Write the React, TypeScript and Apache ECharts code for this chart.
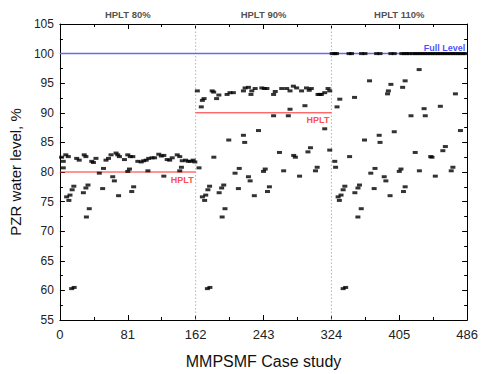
import React, { useEffect, useRef } from "react";
import * as echarts from "echarts";

// ---- axis / annotation values ----
const xMin = 0;
const xMax = 486;
const xInterval = 81;
const yMin = 55;
const yMax = 105;
const yInterval = 5;
const sectionBounds = [162, 324];
const hpltLevels = [80, 90];
const hpltSpans = [[0, 162], [162, 324]];
const fullLevel = 100;
const sectionTitles = ["HPLT 80%", "HPLT 90%", "HPLT 110%"];
const sectionCenters = [81, 243, 405];

// ---- data: [case index, PZR water level %] ----
const sec1Top = [
  [2, 82.5], [4, 81.8], [7, 82.9], [10, 82.6], [20, 82.3], [23, 82.0], [29, 82.9], [31, 82.6],
  [38, 81.8], [40, 81.6], [43, 82.3], [55, 82.0], [58, 82.3], [61, 82.9], [67, 83.2], [69, 82.9],
  [71, 82.6], [77, 82.1], [81, 82.9], [84, 82.6], [87, 82.6], [93, 81.8], [97, 81.7], [100, 81.9],
  [103, 82.0], [106, 82.3], [110, 82.4], [113, 82.4], [118, 83.0], [121, 82.7], [124, 82.8],
  [128, 82.1], [131, 82.0], [134, 82.4], [140, 82.9], [143, 82.6], [146, 81.9], [150, 82.0],
  [153, 81.8], [156, 81.8], [159, 82.0], [161, 81.7],
];
const sec1Low = [
  [4, 80.7], [8, 75.8], [10.7, 75.2], [12, 76.1], [14.6, 77], [16.6, 77.6], [14, 60.3], [17, 60.5],
  [28, 76.5], [31, 77.3], [31.6, 72.4], [33.5, 77.8], [35, 73.8], [47, 79.8], [51, 77.2], [52, 80.6],
  [63, 79.2], [65, 78.5], [70, 76], [81, 80.1], [83, 80.5], [85.7, 76.7], [88, 77.5], [105, 80.2],
  [124, 79.3], [143, 80.2], [145, 80.8],
];
const sec2Top = [
  [164, 93.7], [168.7, 91], [170, 92.1], [172, 92.4], [181.7, 93.7], [183.5, 93.5], [187, 92.4],
  [189.7, 93], [199.5, 93.1], [203, 93.4], [207, 93.4], [219, 93.7], [221, 94.2], [225, 94.3],
  [228, 93.1], [229, 93.7], [233, 94.1], [241, 94.2], [244, 94.1], [247, 94.1], [255, 93.1],
  [257, 93.6], [264.7, 94.1], [270.6, 94.1], [274.6, 93.7], [278.6, 94.5], [282.5, 94.2],
  [288.4, 93.7], [294.3, 94.2], [297.5, 93.8], [300, 94.1], [308, 93.1], [310, 93.1], [312, 93.1],
  [316, 93.4], [320, 94.1], [322, 93.7],
];
const sec2Mid = [
  [183.7, 82.5], [201.5, 85.4], [219, 86.2], [220.5, 85], [237, 87], [255, 89.5], [262, 83.3],
  [272.6, 89.5], [274.6, 90.6], [279, 82.8], [281, 82.5], [292.4, 91.2], [296, 83.4], [299, 84.1],
  [316, 87.3], [322, 83.7],
];
const sec2Low = [
  [166, 80.7], [170, 75.8], [172.7, 75.2], [174, 76.1], [176.6, 77], [178.6, 77.6], [176, 60.3],
  [179, 60.5], [190, 76.5], [193, 77.3], [193.6, 72.4], [195.5, 77.8], [197, 73.8], [209, 79.8],
  [213, 77.2], [214, 80.6], [225, 79.2], [227, 78.5], [232, 76], [243, 80.1], [245, 80.5],
  [247.7, 76.7], [250, 77.5], [267, 80.2], [286, 79.3], [305, 80.2], [307, 80.8],
];
const sec3Top = [
  [325, 100], [328, 100], [330, 100], [345, 100], [348, 100], [360, 100], [364, 100], [378, 100],
  [382, 100], [395, 100], [399, 100], [408, 100], [411, 100], [414, 100], [417, 100], [421, 100],
  [424, 100], [427, 100], [430, 100], [433, 100], [436, 100], [439, 100], [442, 100], [445, 100],
  [448, 100], [451, 100], [454, 100], [457, 100], [460, 100], [463, 100], [466, 100], [469, 100],
  [472, 100], [475, 100], [478, 100], [481, 100], [484, 100],
];
const sec3Mid = [
  [328, 81.8], [330.7, 91], [334, 92.3], [345.7, 82.6], [351.6, 92.6], [363.5, 85.4], [369.5, 95.4],
  [381, 86.2], [382, 85], [391, 93.2], [392, 93.7], [395, 94.8], [399, 86.8], [409, 94.3],
  [412, 95.4], [419, 89.5], [424, 83.3], [428.7, 97.3], [434.6, 90.7], [436, 89.5], [442.5, 82.6],
  [444, 82.5], [454, 91.1], [457, 83.6], [460, 84.3], [472, 93.2], [478, 87],
];
const sec3Low = [
  [329, 80.8], [332, 75.8], [333.5, 75.2], [335.5, 76.1], [338, 77], [340, 77.6], [338, 60.3],
  [341, 60.5], [352, 76.5], [355.7, 77.3], [355.6, 72.4], [357.5, 77.8], [359.6, 73.8], [371, 79.8],
  [375, 77.2], [376, 80.6], [387, 79.2], [389, 78.5], [394, 76], [405, 80.1], [407, 80.5],
  [410, 76.7], [412, 77.5], [429, 80.2], [448, 79.3], [467, 80.2], [469, 80.8],
];

const FONT = "'Liberation Sans', Arial, sans-serif";

export default function App() {
  const ref = useRef<HTMLDivElement>(null);

  useEffect(() => {
    if (!ref.current) return;
    const chart = echarts.init(ref.current, null, { renderer: "svg" });

    const dotSeries = (name: string, data: number[][]) => ({
      name,
      type: "scatter",
      data,
      symbol: "rect",
      symbolSize: [5, 3],
      itemStyle: { color: "#000" },
      z: 5,
      clip: false,
    });

    const refLine = (
      name: string,
      data: number[][],
      color: string,
      width: number,
      type: any = "solid"
    ) => ({
      name,
      type: "line",
      data,
      symbol: "none",
      silent: true,
      color,
      itemStyle: { color },
      lineStyle: { color, width, type },
      z: 1,
    });

    const textLabel = (
      name: string,
      value: number[],
      text: string,
      color: string,
      position: any,
      offset: number[],
      distance: number,
      fontSize: number
    ) => ({
      name,
      type: "scatter",
      symbolSize: 0,
      clip: false,
      silent: true,
      z: 6,
      data: [{ value, name: text }],
      label: {
        show: true,
        position,
        distance,
        offset,
        formatter: (p: any) => p.name,
        fontFamily: FONT,
        fontWeight: "bold",
        fontSize,
        color,
      },
    });

    const axisCommonX = {
      type: "value",
      min: xMin,
      max: xMax,
      interval: xInterval,
      splitLine: { show: false },
      axisLine: { show: true, onZero: false, lineStyle: { color: "#000", width: 1 } },
      axisTick: { show: true, inside: true, length: 5, lineStyle: { color: "#000" } },
      minorTick: { show: true, splitNumber: 2, length: 3, lineStyle: { color: "#000" } },
    };
    const axisCommonY = {
      type: "value",
      min: yMin,
      max: yMax,
      interval: yInterval,
      splitLine: { show: false },
      axisLine: { show: true, onZero: false, lineStyle: { color: "#000", width: 1 } },
      axisTick: { show: true, inside: true, length: 5, lineStyle: { color: "#000" } },
      minorTick: { show: true, splitNumber: 2, length: 3, lineStyle: { color: "#000" } },
    };

    chart.setOption({
      animation: false,
      grid: { left: 59, right: 11, top: 24, bottom: 50 },
      xAxis: [
        {
          ...axisCommonX,
          position: "bottom",
          name: "MMPSMF Case study",
          nameLocation: "middle",
          nameGap: 33,
          nameTextStyle: { fontFamily: FONT, fontSize: 16, color: "#111" },
          axisLabel: { fontFamily: FONT, fontSize: 13, color: "#222", margin: 8 },
        },
        {
          ...axisCommonX,
          position: "top",
          axisLabel: { show: false },
        },
      ],
      yAxis: [
        {
          ...axisCommonY,
          position: "left",
          name: "PZR water level, %",
          nameLocation: "middle",
          nameGap: 31,
          nameTextStyle: { fontFamily: FONT, fontSize: 15, color: "#111" },
          axisLabel: { fontFamily: FONT, fontSize: 12, color: "#222", margin: 6 },
        },
        {
          ...axisCommonY,
          position: "right",
          axisLabel: { show: false },
        },
      ],
      series: [
        ...sectionBounds.map((b, i) =>
          refLine("bound" + i, [[b, yMin], [b, yMax]], "#b4b4b4", 1, [1.5, 2])
        ),
        ...hpltLevels.map((lv, i) =>
          refLine("hplt" + i, [[hpltSpans[i][0], lv], [hpltSpans[i][1], lv]], "#ff2a2a", 1)
        ),
        refLine("full", [[xMin, fullLevel], [xMax, fullLevel]], "#6a6af0", 1.5),
        dotSeries("HPLT 80%", [...sec1Top, ...sec1Low]),
        dotSeries("HPLT 90%", [...sec2Top, ...sec2Mid, ...sec2Low]),
        dotSeries("HPLT 110%", [...sec3Top, ...sec3Mid, ...sec3Low]),
        ...hpltLevels.map((lv, i) =>
          textLabel("hpltLabel" + i, [hpltSpans[i][1], lv], "HPLT", "#ff2020", "left", [0, 7.5], 2, 9)
        ),
        textLabel("fullLabel", [xMax, fullLevel], "Full Level", "#1a1aff", "left", [0, -5.5], 2, 9),
        {
          name: "titles",
          type: "scatter",
          symbolSize: 0,
          clip: false,
          silent: true,
          data: sectionCenters.map((x, i) => ({ value: [x, yMax], name: sectionTitles[i] })),
          label: {
            show: true,
            position: "top",
            distance: 5,
            formatter: (p: any) => p.name,
            fontFamily: FONT,
            fontWeight: "bold",
            fontSize: 9.5,
            color: "#222",
          },
        },
      ],
    });

    return () => chart.dispose();
  }, []);

  return (
    <div
      ref={ref}
      style={{ position: "absolute", left: 0, top: 0, width: 481, height: 374 }}
    />
  );
}
